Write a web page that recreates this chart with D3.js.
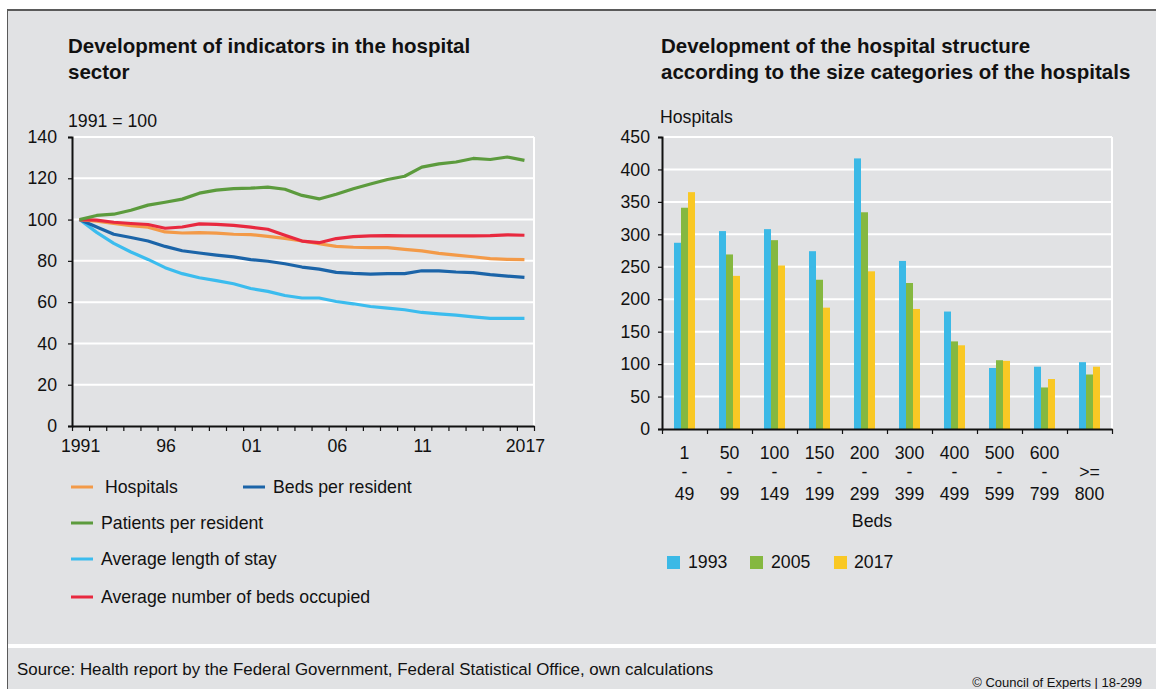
<!DOCTYPE html>
<html><head><meta charset="utf-8">
<script src="https://cdn.jsdelivr.net/npm/d3@7"></script>
<style>
html,body{margin:0;padding:0;background:#fff;}
svg{display:block;font-family:"Liberation Sans",Arial,sans-serif;}
</style></head>
<body><svg id="c" width="1156" height="689"></svg>
<script>
// ---------- DATA ----------
const years = d3.range(1991, 2018);
const yearTickLabels = {1991:"1991",1996:"96",2001:"01",2006:"06",2011:"11",2017:"2017"};
const hospitals = [100,99.2,98.1,97.1,96.3,94.0,93.5,93.7,93.4,92.9,92.7,91.9,90.9,89.6,88.3,87.0,86.6,86.4,86.4,85.6,84.8,83.6,82.8,82.0,81.1,80.7,80.6];
const bedsPerResident = [100,96.4,92.9,91.3,89.6,87.0,84.9,83.8,82.8,81.9,80.6,79.8,78.6,77.0,76.0,74.4,73.9,73.6,73.8,73.8,75.2,75.1,74.6,74.3,73.3,72.6,72.0];
const patientsPerResident = [100,102,102.6,104.5,107,108.4,109.9,112.8,114.3,115,115.2,115.7,114.7,111.7,110,112.3,114.9,117.2,119.4,121,125.4,127,127.9,129.6,129.1,130.3,128.7];
const avgLengthOfStay = [100,93.8,88.5,84.3,80.7,76.7,73.8,71.8,70.4,68.9,66.6,65.2,63.2,62.0,62.0,60.3,59.2,57.9,57.1,56.3,55.0,54.3,53.7,52.9,52.1,52.1,52.1];
const avgBedsOccupied = [100,99.7,98.7,98.1,97.6,95.8,96.4,97.9,97.7,97.2,96.3,95.3,92.4,89.6,88.8,90.8,91.7,92.1,92.2,92.1,92.1,92.1,92.1,92.1,92.2,92.6,92.4];
const leftYTicks = [0,20,40,60,80,100,120,140];

const sizeCatsTop = ["1","50","100","150","200","300","400","500","600",""];
const sizeCatsMid = ["-","-","-","-","-","-","-","-","-",">="];
const sizeCatsBot = ["49","99","149","199","299","399","499","599","799","800"];
const barYears = ["1993","2005","2017"];
const hosp1993 = [287,305,308,274,417,259,181,94,96,103];
const hosp2005 = [341,269,291,230,334,225,135,106,64,84];
const hosp2017 = [365,236,252,187,243,185,129,105,77,96];
const rightYTicks = [0,50,100,150,200,250,300,350,400,450];

// ---------- STYLE ----------
const BG = "#e1e2e4";
const lineSeries = [
  {name:"Hospitals", values:hospitals, color:"#f39a48"},
  {name:"Beds per resident", values:bedsPerResident, color:"#1b64a8"},
  {name:"Patients per resident", values:patientsPerResident, color:"#5c9b3d"},
  {name:"Average length of stay", values:avgLengthOfStay, color:"#3bbcee"},
  {name:"Average number of beds occupied", values:avgBedsOccupied, color:"#e8293f"}
];
const barSeries = [
  {name:barYears[0], values:hosp1993, color:"#3bb9e6"},
  {name:barYears[1], values:hosp2005, color:"#85b840"},
  {name:barYears[2], values:hosp2017, color:"#f9c824"}
];

const svg = d3.select("#c");
svg.append("rect").attr("x",7).attr("y",9).attr("width",1149).attr("height",680).attr("fill",BG);
svg.append("line").attr("x1",7).attr("x2",1156).attr("y1",10).attr("y2",10).attr("stroke","#5a5a5a").attr("stroke-width",2);
svg.append("line").attr("x1",7.5).attr("x2",7.5).attr("y1",9).attr("y2",689).attr("stroke","#5a5a5a").attr("stroke-width",1);
svg.append("rect").attr("x",8).attr("y",644).attr("width",1148).attr("height",4).attr("fill","#fff");

// Titles
const titleFont = "bold 20.5px 'Liberation Sans', Arial, sans-serif";
function title(x, lines){
  lines.forEach((t,i)=>svg.append("text").attr("x",x).attr("y",53+i*26).style("font",titleFont).attr("fill","#111").text(t));
}
title(68, ["Development of indicators in the hospital","sector"]);
title(661, ["Development of the hospital structure","according to the size categories of the hospitals"]);

const tickFont = "17.7px 'Liberation Sans', Arial, sans-serif";

// ---------- LEFT LINE CHART ----------
const L = {x0:72, x1:534, y0:426, y1:137};
const xBand = d3.scaleBand().domain(years).range([L.x0, L.x1]).padding(0);
const xLin = d3.scaleLinear().domain([1991, 2018]).range([L.x0, L.x1]);
const yL = d3.scaleLinear().domain([0,140]).range([L.y0, L.y1]);
const gL = svg.append("g");

// gridlines
gL.selectAll("line.grid").data(leftYTicks.filter(d=>d>0)).join("line")
  .attr("x1",L.x0).attr("x2",L.x1).attr("y1",d=>yL(d)).attr("y2",d=>yL(d))
  .attr("stroke","#fff").attr("stroke-width",2);
gL.append("line").attr("x1",L.x1).attr("x2",L.x1).attr("y1",L.y1).attr("y2",L.y0).attr("stroke","#fff").attr("stroke-width",2);

// y axis
const yAxisL = gL.append("g").attr("transform",`translate(${L.x0},0)`)
  .call(d3.axisLeft(yL).tickValues(leftYTicks).tickSize(4).tickPadding(11));
yAxisL.select(".domain").attr("stroke","#111").attr("stroke-width",2);
yAxisL.selectAll(".tick line").attr("stroke","#111").attr("stroke-width",1.2);
yAxisL.selectAll("text").style("font",tickFont).attr("fill","#111");

// x axis ticks at year boundaries
const xAxisL = gL.append("g").attr("transform",`translate(0,${L.y0})`)
  .call(d3.axisBottom(xLin).tickValues(d3.range(1991,2019)).tickFormat("").tickSize(5).tickSizeOuter(0));
xAxisL.select(".domain").attr("stroke","#111").attr("stroke-width",2);
xAxisL.selectAll(".tick line").attr("stroke","#111").attr("stroke-width",1.2);
// x labels at band centres
const xLabL = gL.append("g").attr("transform",`translate(0,${L.y0})`)
  .call(d3.axisBottom(xBand).tickValues(years.filter(y=>yearTickLabels[y])).tickFormat(y=>yearTickLabels[y]).tickSize(0).tickPadding(13));
xLabL.select(".domain").remove();
xLabL.selectAll("text").style("font",tickFont).attr("fill","#111");

svg.append("text").attr("x",68).attr("y",127).style("font",tickFont).attr("fill","#111").text("1991 = 100");

const lineGen = d3.line().x((d,i)=>xBand(years[i])+xBand.bandwidth()/2 - 1).y(d=>yL(d));
const drawOrder = [3,1,0,4,2];
drawOrder.forEach(k=>{
  const s = lineSeries[k];
  gL.append("path").attr("d",lineGen(s.values)).attr("fill","none").attr("stroke",s.color).attr("stroke-width",3.2).attr("stroke-linejoin","round");
});

// left legend
const legL = [
  {s:lineSeries[0], x:71, tx:105, y:487},
  {s:lineSeries[1], x:243, tx:273, y:487},
  {s:lineSeries[2], x:71, tx:101, y:523},
  {s:lineSeries[3], x:71, tx:101, y:559},
  {s:lineSeries[4], x:71, tx:101, y:597}
];
legL.forEach(e=>{
  svg.append("line").attr("x1",e.x).attr("x2",e.x+22).attr("y1",e.y).attr("y2",e.y).attr("stroke",e.s.color).attr("stroke-width",3);
  svg.append("text").attr("x",e.tx).attr("y",e.y+6).style("font",tickFont).attr("fill","#111").text(e.s.name);
});

// ---------- RIGHT BAR CHART ----------
const R = {x0:662, x1:1112, y0:429, y1:137};
const cats = d3.range(sizeCatsBot.length);
const xR = d3.scaleBand().domain(cats).range([R.x0, R.x1]).padding(0);
const xRin = d3.scaleBand().domain(barYears).range([xR.bandwidth()/2-10.5, xR.bandwidth()/2+10.5]).padding(0);
const yR = d3.scaleLinear().domain([0,450]).range([R.y0, R.y1]);
const gR = svg.append("g");

gR.selectAll("line.grid").data(rightYTicks.filter(d=>d>0)).join("line")
  .attr("x1",R.x0).attr("x2",R.x1).attr("y1",d=>yR(d)).attr("y2",d=>yR(d))
  .attr("stroke","#fff").attr("stroke-width",2);
gR.append("line").attr("x1",R.x1).attr("x2",R.x1).attr("y1",R.y1).attr("y2",R.y0).attr("stroke","#fff").attr("stroke-width",2);

barSeries.forEach(s=>{
  gR.append("g").selectAll("rect").data(s.values).join("rect")
    .attr("x",(d,i)=>xR(i)+xRin(s.name))
    .attr("width",xRin.bandwidth())
    .attr("y",d=>yR(d))
    .attr("height",d=>yR(0)-yR(d))
    .attr("fill",s.color);
});

const yAxisR = gR.append("g").attr("transform",`translate(${R.x0},0)`)
  .call(d3.axisLeft(yR).tickValues(rightYTicks).tickSize(4).tickPadding(8));
yAxisR.select(".domain").attr("stroke","#111").attr("stroke-width",2);
yAxisR.selectAll(".tick line").attr("stroke","#111").attr("stroke-width",1.2);
yAxisR.selectAll("text").style("font",tickFont).attr("fill","#111");

const xBounds = d3.scaleLinear().domain([0, cats.length]).range([R.x0, R.x1]);
const xAxisR = gR.append("g").attr("transform",`translate(0,${R.y0})`)
  .call(d3.axisBottom(xBounds).tickValues(d3.range(0,cats.length+1)).tickFormat("").tickSize(5).tickSizeOuter(0));
xAxisR.select(".domain").attr("stroke","#111").attr("stroke-width",2);
xAxisR.selectAll(".tick line").attr("stroke","#111").attr("stroke-width",1.2);

const catLab = gR.append("g").selectAll("g").data(cats).join("g")
  .attr("transform",d=>`translate(${xR(d)+xR.bandwidth()/2},0)`);
catLab.append("text").attr("y",459).attr("text-anchor","middle").style("font",tickFont).attr("fill","#111").text(d=>sizeCatsTop[d]);
catLab.append("text").attr("y",478).attr("text-anchor","middle").style("font",tickFont).attr("fill","#111").text(d=>sizeCatsMid[d]);
catLab.append("text").attr("y",500).attr("text-anchor","middle").style("font",tickFont).attr("fill","#111").text(d=>sizeCatsBot[d]);
svg.append("text").attr("x",872).attr("y",527).attr("text-anchor","middle").style("font",tickFont).attr("fill","#111").text("Beds");
svg.append("text").attr("x",660).attr("y",123).style("font",tickFont).attr("fill","#111").text("Hospitals");

// right legend
const legR = [{x:667,tx:688},{x:750,tx:771},{x:834,tx:854}];
barSeries.forEach((s,i)=>{
  svg.append("rect").attr("x",legR[i].x).attr("y",556).attr("width",13).attr("height",13).attr("fill",s.color);
  svg.append("text").attr("x",legR[i].tx).attr("y",568).style("font",tickFont).attr("fill","#111").text(s.name);
});

// footer
svg.append("text").attr("x",17).attr("y",675).style("font","16.9px 'Liberation Sans', Arial, sans-serif").attr("fill","#111")
  .text("Source: Health report by the Federal Government, Federal Statistical Office, own calculations");
svg.append("text").attr("x",1142).attr("y",687).attr("text-anchor","end").style("font","13px 'Liberation Sans', Arial, sans-serif").attr("fill","#111")
  .text("© Council of Experts | 18-299");
</script></body></html>
